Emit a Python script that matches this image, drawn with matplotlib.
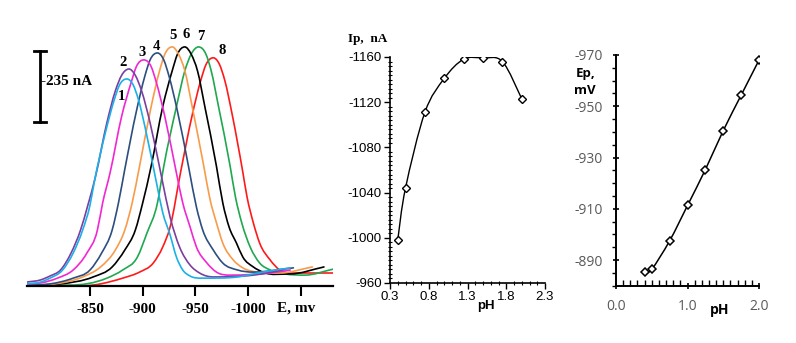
import matplotlib
matplotlib.use('Agg')
import matplotlib.pyplot as plt
import numpy as np
from matplotlib.path import Path
from matplotlib.patches import PathPatch
from matplotlib.ticker import MultipleLocator

plt.rcParams['axes.unicode_minus'] = False

# ---- Panel 1: voltammograms (E in mV, I in nA above baseline) ----
E1 = [-790, -803, -812, -824, -834, -843, -850, -854, -865, -873, -878, -885, -891, -896,
      -903, -913, -919, -926, -932, -938, -945, -957, -990, -1014, -1040]
I1 = [7, 13, 26, 53, 109, 185, 268, 343, 513, 616, 665, 685, 665, 616,
      513, 343, 243, 169, 96, 53, 33, 26, 30, 46, 60]

E2 = [-790, -803, -812, -822, -832, -841, -848, -855, -866, -874, -880, -887, -893, -899,
      -907, -918, -926, -935, -945, -954, -967, -1005, -1033]
I2 = [13, 20, 33, 53, 109, 185, 268, 359, 540, 645, 697, 718, 697, 645,
      540, 359, 228, 129, 69, 43, 30, 36, 53]

E3 = [-790, -803, -819, -834, -847, -857, -862, -869, -880, -889, -894, -901, -908, -913,
      -921, -932, -938, -945, -951, -961, -970, -983, -1021, -1040]
I3 = [7, 10, 26, 53, 109, 185, 275, 374, 561, 673, 726, 748, 726, 673,
      561, 374, 275, 195, 129, 76, 46, 36, 43, 53]

E4 = [-790, -812, -834, -850, -861, -871, -877, -883, -894, -902, -907, -914, -920, -925,
      -933, -944, -951, -957, -967, -976, -990, -1005, -1043]
I4 = [3, 7, 26, 53, 109, 185, 275, 386, 578, 694, 748, 771, 748, 694,
      578, 386, 261, 185, 119, 76, 53, 46, 60]

E5 = [-793, -817, -843, -860, -874, -883, -890, -897, -908, -916, -921, -928, -934, -940,
      -947, -958, -964, -970, -976, -986, -995, -1008, -1030, -1061]
I5 = [3, 7, 30, 63, 119, 185, 275, 396, 593, 712, 767, 791, 767, 712,
      593, 396, 285, 209, 142, 86, 60, 46, 43, 63]

E6 = [-793, -822, -853, -871, -883, -893, -900, -908, -919, -928, -933, -940, -946, -952,
      -959, -970, -976, -982, -989, -995, -1005, -1014, -1040, -1072]
I6 = [3, 7, 30, 63, 119, 185, 275, 396, 593, 712, 767, 791, 767, 712,
      593, 396, 275, 195, 142, 96, 63, 46, 40, 63]

E7 = [-798, -831, -866, -881, -895, -904, -914, -920, -932, -940, -946, -953, -960, -965,
      -972, -983, -988, -994, -1002, -1011, -1021, -1035, -1054, -1081]
I7 = [3, 3, 26, 53, 96, 175, 275, 396, 593, 712, 767, 791, 767, 712,
      593, 396, 295, 209, 129, 76, 53, 40, 36, 56]

E8 = [-805, -860, -881, -897, -910, -919, -926, -936, -947, -955, -960, -967, -973, -978,
      -985, -995, -999, -1005, -1011, -1021, -1030, -1040, -1081]
I8 = [0, 7, 26, 46, 76, 129, 195, 377, 566, 679, 732, 755, 732, 679,
      566, 377, 295, 209, 142, 86, 53, 43, 43]

curve_E = [E1, E2, E3, E4, E5, E6, E7, E8]
curve_I = [I1, I2, I3, I4, I5, I6, I7, I8]
curve_colors = ['#1CB0E8', '#7A3FA0', '#F028D2', '#2D4E7E', '#F89B4A', '#000000', '#1FA84F', '#FF1A1A']
curve_labels = ['1', '2', '3', '4', '5', '6', '7', '8']
label_E = [-880, -881, -899, -913, -929, -941, -955, -975]
label_I = [626, 741, 774, 794, 828, 831, 824, 778]

scale_nA = 235

# ---- Panel 2: Ip vs pH ----
pH = [0.4, 0.5, 0.75, 1.0, 1.25, 1.5, 1.75, 2.0]
Ip = [-998, -1044, -1111, -1141, -1158, -1159, -1156, -1123]

# ---- Panel 3: Ep vs pH ----
Ep = [-885.2, -886.4, -897.5, -911.3, -925.3, -940.5, -954.3, -968.0]


def smooth_path(x, y):
    # Excel-like smoothed line through the points (cubic Bezier segments)
    pts = np.column_stack([x, y]).astype(float)
    n = len(pts)
    verts = [pts[0]]
    codes = [Path.MOVETO]
    for i in range(n - 1):
        p0 = pts[i - 1] if i > 0 else pts[i]
        p1 = pts[i]
        p2 = pts[i + 1]
        p3 = pts[i + 2] if i + 2 < n else pts[i + 1]
        verts += [p1 + (p2 - p0) / 6, p2 - (p3 - p1) / 6, p2]
        codes += [Path.CURVE4] * 3
    return Path(verts, codes)


def trace_path(x, y):
    # smooth cubic Bezier through the points, flat at peaks and valleys
    x = np.asarray(x, float)
    y = np.asarray(y, float)
    h = np.diff(x)
    d = np.diff(y) / h
    n = len(x)
    m = np.zeros(n)
    m[0], m[-1] = d[0], d[-1]
    for i in range(1, n - 1):
        if d[i - 1] * d[i] > 0:
            m[i] = (abs(h[i]) * d[i - 1] + abs(h[i - 1]) * d[i]) / (abs(h[i]) + abs(h[i - 1]))
    verts = [(x[0], y[0])]
    codes = [Path.MOVETO]
    for i in range(n - 1):
        verts += [(x[i] + h[i] / 3, y[i] + m[i] * h[i] / 3),
                  (x[i + 1] - h[i] / 3, y[i + 1] - m[i + 1] * h[i] / 3),
                  (x[i + 1], y[i + 1])]
        codes += [Path.CURVE4] * 3
    return Path(verts, codes)


fig = plt.figure(figsize=(7.96, 3.43), dpi=100)

# ---------- Panel 1 ----------
ax1 = fig.add_axes([27 / 796, 57 / 343, 306 / 796, 256 / 343])
order = [7, 6, 5, 4, 3, 2, 1, 0]
for k in order:
    ax1.add_patch(PathPatch(trace_path(curve_E[k], curve_I[k]), fill=False,
                            edgecolor=curve_colors[k], lw=1.2, capstyle='round'))
for k in range(8):
    ax1.text(label_E[k], label_I[k], curve_labels[k], family='Liberation Serif',
             fontweight='bold', fontsize=10.5, ha='center', va='center')

ax1.set_xlim(-790.2, -1080.6)
ax1.set_ylim(0, 847)
for s in ['top', 'right', 'left']:
    ax1.spines[s].set_visible(False)
ax1.spines['bottom'].set_linewidth(1.6)
ax1.set_yticks([])
ax1.set_xticks([-850, -900, -950, -1000, -1050])
ax1.set_xticklabels(['-850', '-900', '-950', '-1000', ''], family='Liberation Serif',
                    fontweight='bold', fontsize=11)
ax1.tick_params(axis='x', length=7, width=1.5, pad=5)
ax1.text(-1046, -73, 'E, mv', family='Liberation Serif', fontweight='bold', fontsize=11,
         ha='center', va='center')

# scale bar
bar_E = -802.6
bar_top = 778
ax1.plot([bar_E, bar_E], [bar_top - scale_nA, bar_top], color='black', lw=2)
ax1.plot([bar_E + 5.7, bar_E - 5.7], [bar_top, bar_top], color='black', lw=2)
ax1.plot([bar_E + 5.7, bar_E - 5.7], [bar_top - scale_nA, bar_top - scale_nA], color='black', lw=2)
ax1.text(-803.5, 675, '-%d nA' % scale_nA, family='Liberation Serif', fontweight='bold',
         fontsize=11, ha='left', va='center')

# ---------- Panel 2 ----------
ax2 = fig.add_axes([390 / 796, 60 / 343, 155 / 796, 226 / 343])
ax2.add_patch(PathPatch(smooth_path(pH, Ip), fill=False, edgecolor='black', lw=1.0))
ax2.plot(pH, Ip, linestyle='none', marker='D', markersize=4.5, markerfacecolor='white',
         markeredgecolor='black', markeredgewidth=1.0, zorder=3)
ax2.set_xlim(0.3, 2.3)
ax2.set_ylim(-960, -1160)
for s in ['top', 'right']:
    ax2.spines[s].set_visible(False)
ax2.spines['left'].set_linewidth(1.2)
ax2.spines['bottom'].set_linewidth(1.2)
ax2.set_xticks([0.3, 0.8, 1.3, 1.8, 2.3])
ax2.set_xticklabels(['0.3', '0.8', '1.3', '1.8', '2.3'])
ax2.set_yticks([-960, -1000, -1040, -1080, -1120, -1160])
ax2.set_yticklabels(['-960', '-1000', '-1040', '-1080', '-1120', '-1160'])
ax2.xaxis.set_minor_locator(MultipleLocator(0.1))
ax2.yaxis.set_minor_locator(MultipleLocator(4))
ax2.tick_params(which='major', length=4, width=1.0, labelsize=9.5, pad=2)
ax2.tick_params(which='minor', length=2.5, width=0.8, direction='inout')
for lab in ax2.get_xticklabels() + ax2.get_yticklabels():
    lab.set_family('Liberation Sans')
ax2.text(0.016, -1176, 'Ip,  nA', family='Liberation Serif', fontweight='bold', fontsize=9.5,
         ha='center', va='center')
ax2.text(1.54, -940, 'pH', family='Liberation Sans', fontweight='bold', fontsize=9.5,
         ha='center', va='center')

# ---------- Panel 3 ----------
ax3 = fig.add_axes([616 / 796, 57.3 / 343, 143 / 796, 230.7 / 343])
ax3.add_patch(PathPatch(smooth_path(pH, Ep), fill=False, edgecolor='black', lw=1.1))
ax3.plot(pH, Ep, linestyle='none', marker='D', markersize=4.5, markerfacecolor='white',
         markeredgecolor='black', markeredgewidth=1.1, zorder=3)
ax3.set_xlim(0.0, 2.0)
ax3.set_ylim(-880, -970)
for s in ['top', 'right']:
    ax3.spines[s].set_visible(False)
ax3.spines['left'].set_linewidth(1.4)
ax3.spines['bottom'].set_linewidth(1.4)
ax3.set_xticks([0.0, 1.0, 2.0])
ax3.set_xticklabels(['0.0', '1.0', '2.0'])
ax3.set_yticks([-890, -910, -930, -950, -970])
ax3.set_yticklabels(['-890', '-910', '-930', '-950', '-970'])
ax3.xaxis.set_minor_locator(MultipleLocator(0.1))
ax3.yaxis.set_minor_locator(MultipleLocator(5))
ax3.tick_params(which='major', length=5, width=1.2, labelsize=10, pad=7,
                labelcolor='#595959', direction='inout')
ax3.tick_params(axis='x', which='minor', length=4, width=1.0, direction='in')
ax3.tick_params(axis='y', which='minor', length=3, width=1.0, direction='out')
for lab in ax3.get_xticklabels() + ax3.get_yticklabels():
    lab.set_family('Open Sans')
ax3.text(-0.43, -959.5, 'Ep,\nmV', family='Open Sans', fontweight='bold', fontsize=9.5,
         ha='center', va='center', linespacing=1.45)
ax3.text(1.45, -870.6, 'pH', family='Open Sans', fontweight='bold', fontsize=10,
         ha='center', va='center')

fig.savefig('out.png', dpi=100)
